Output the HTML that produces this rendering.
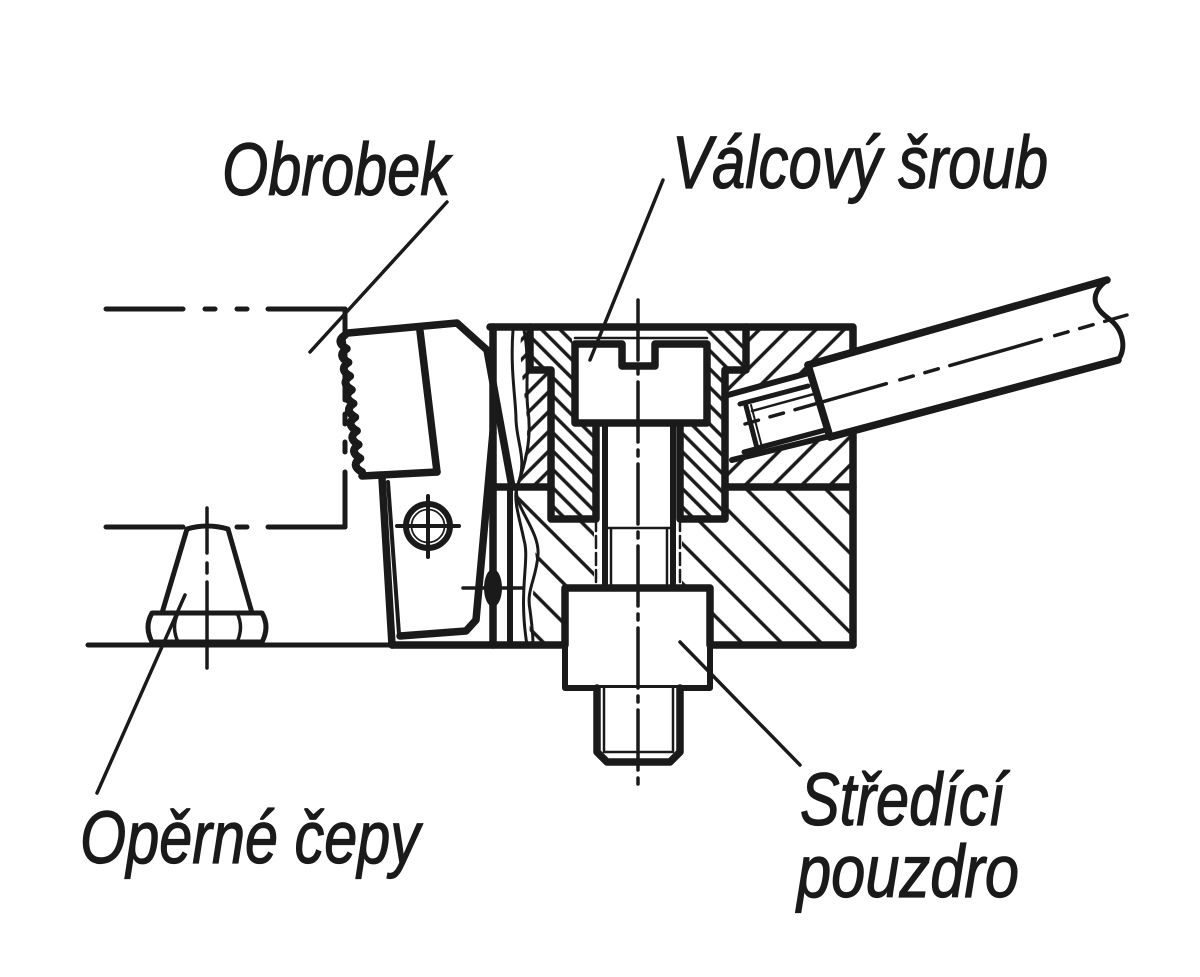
<!DOCTYPE html>
<html><head><meta charset="utf-8">
<style>
html,body{margin:0;padding:0;background:#fff;}
svg{display:block;}
text{font-family:"Liberation Sans",sans-serif;font-style:italic;fill:#1a1a1a;stroke:#1a1a1a;stroke-width:1.2;font-size:74px;}
</style></head><body>
<svg width="1200" height="977" viewBox="0 0 1200 977" xmlns="http://www.w3.org/2000/svg">
<defs>
<pattern id="hA" width="40" height="20" patternUnits="userSpaceOnUse" patternTransform="rotate(-45)"><line x1="-5" y1="10" x2="45" y2="10" stroke="#1a1a1a" stroke-width="3.5"/></pattern>
<pattern id="hA2" width="40" height="14" patternUnits="userSpaceOnUse" patternTransform="rotate(-45)"><line x1="-5" y1="7" x2="45" y2="7" stroke="#1a1a1a" stroke-width="3.5"/></pattern>
<pattern id="hB" width="40" height="13" patternUnits="userSpaceOnUse" patternTransform="rotate(45)"><line x1="-5" y1="6" x2="45" y2="6" stroke="#1a1a1a" stroke-width="3.5"/></pattern>
<pattern id="hC" width="40" height="28" patternUnits="userSpaceOnUse" patternTransform="rotate(45)"><line x1="-5" y1="14" x2="45" y2="14" stroke="#1a1a1a" stroke-width="3.5"/></pattern>
</defs>

<g stroke="none">
<path d="M522,330 L530,330 L530,370 L551,370 L551,485 L517,485 C523,465 530,440 526,410 C523,380 518,350 522,330 Z" fill="url(#hA2)"/>
<path d="M530,330 L572,330 L572,425 L596,425 L596,519 L551,519 L551,370 L530,370 Z" fill="url(#hB)"/>
<path d="M746,330 L704,330 L704,425 L680,425 L680,519 L725,519 L725,370 L746,370 Z" fill="url(#hB)"/>
<path d="M746,330 L850,330 L850,485 L725,485 L725,370 L746,370 Z" fill="url(#hA)"/>
<path d="M517,490 L551,490 L551,519 L594,519 L594,588 L565,588 L565,642 L531,642 C526,620 536,590 536,560 C534,530 520,510 517,490 Z" fill="url(#hC)"/>
<path d="M725,490 L850,490 L850,642 L710,642 L710,588 L682,588 L682,519 L725,519 Z" fill="url(#hC)"/>
<path d="M728,395 L812,372 L832,437 L728,462 Z" fill="#fff"/>
</g>

<g fill="none" stroke="#1a1a1a" stroke-linecap="round" stroke-linejoin="round">
<g stroke-width="5">
<path d="M106,309 H183 M205,309 H215 M237,309 H247 M268,309 H345"/>
<path d="M345,309 V400 M345,414 V424 M345,442 V452 M345,472 V527"/>
<path d="M106,527 H183 M237,527 H247 M268,527 H345"/>
<path d="M88,645 H392"/>
</g>

<path d="M187,529 Q207,523 228,529 L252,613 L162,613 Z" fill="#fff" stroke-width="5"/>
<path d="M152,613 H262 Q270,627 262,642 H152 Q144,627 152,613 Z" fill="#fff" stroke-width="5"/>
<path d="M178,613 Q171,627 178,642 M237,613 Q244,627 237,642" stroke-width="3.5"/>
<path d="M207,508 V553 M207,563 V573 M207,582 V668" stroke-width="3.5"/>

<path d="M345,333 L457,323 L487,350 L493,432 L476,620 L466,631 L400,636 L386,480 L362,476 Z" fill="#fff" stroke="none"/>
<path d="M348,333 L457,323 L487,350 L512,487" stroke-width="7.5"/>
<path d="M493,432 L476,620 L466,631 L400,636" stroke-width="7.5"/>
<path d="M382,478 L392,645" stroke-width="7.5"/>
<path d="M388,482 L399,634" stroke-width="4"/>
<path d="M420,331 L437,472" stroke-width="7.5"/>
<path d="M362,476 L437,472" stroke-width="7.5"/>
<path d="M345,335 q-10,7 1.7,13.7 q-10,7 1.7,13.7 q-10,7 1.7,13.7 q-10,7 1.7,13.7 q-10,7 1.7,13.7 q-10,7 1.7,13.7 q-10,7 1.7,13.7 q-10,7 1.7,13.7 q-10,7 1.7,13.7 q-10,7 1.7,13.7" stroke-width="8"/>
<circle cx="428" cy="526" r="22" fill="#fff" stroke-width="6"/>
<circle cx="428" cy="526" r="16.5" stroke-width="1.8"/>
<path d="M397,526 H459 M428,496 V557" stroke-width="4"/>
<ellipse cx="493" cy="588" rx="9" ry="19" fill="#1a1a1a" stroke="none"/>
<path d="M463,588 H523" stroke-width="3.5"/>

<path d="M490,327 H853 V352 M853,428 V645" stroke-width="7.5"/>
<path d="M493,327 V645" stroke-width="7.5"/>
<path d="M510,487 V645" stroke-width="6"/>
<path d="M392,645 H565 M710,645 H853" stroke-width="7.5"/>
<path d="M493,487 H551 M725,487 H853" stroke-width="7.5"/>
<path d="M513,330 C510,370 516,400 516,420 C517,445 528,460 517,487 C512,505 540,530 538,555 C536,580 526,590 530,610 C532,625 533,635 533,645" stroke-width="3"/>
<path d="M524,330 C530,360 525,390 528,410 C532,440 525,465 517,487 C513,500 520,520 524,540 C530,560 518,590 527,645" stroke-width="3"/>

<path d="M530,327 V370 H551 V519 H596 V425" stroke-width="7.5"/>
<path d="M746,327 V370 H725 V519 H680 V425" stroke-width="7.5"/>
<path d="M596,519 V588 M680,519 V588" stroke-width="2.5" stroke-dasharray="12 5"/>

<rect x="575" y="343" width="132" height="80" fill="#fff" stroke="none"/>
<path d="M622,344 H575 V423 H707 V344 H655 V366 H622 Z" stroke-width="7.5"/>
<path d="M575,338 H707" stroke-width="2.5"/>
<path d="M605,423 V588 M673,423 V588" stroke-width="6"/>
<path d="M605,528 H673 M611,528 V588 M667,528 V588" stroke-width="2.5"/>

<rect x="565" y="588" width="145" height="100" fill="#fff" stroke="none"/>
<path d="M565,645 V588 H710 V645" stroke-width="7.5"/>
<path d="M565,645 V688 H710 V645" stroke-width="6"/>
<path d="M597,688 V752 L607,762 H670 L680,752 V688" fill="#fff" stroke-width="7.5"/>
<path d="M604,688 V752 H673 V688" stroke-width="2.5"/>

<path d="M638,300 V785" stroke-width="3.5" stroke-dasharray="60 8 6 8"/>

<path d="M728,395 L812,372" stroke-width="6"/>
<path d="M732,460 L830,436" stroke-width="6"/>
<path d="M746,406 L758,452" stroke-width="5"/>
<path d="M751,405 L763,451" stroke-width="2"/>
<path d="M752,411 L814,394" stroke-width="2.5"/>
<path d="M760,446 L824,429" stroke-width="2.5"/>
<path d="M740,404 L808,386 M744,452 L826,430" stroke-width="5"/>

<path d="M808,365 L1107,280 C1092,292 1090,305 1108,318 C1125,330 1126,350 1118,360 L830,437 Z" fill="#fff" stroke="none"/>
<path d="M808,365 L1107,280" stroke-width="7.5"/>
<path d="M830,437 L1118,360" stroke-width="7.5"/>
<path d="M808,365 L830,437" stroke-width="7.5"/>
<path d="M1107,280 C1092,292 1090,305 1108,318 C1125,330 1126,350 1118,360" stroke-width="5"/>
<path d="M745,424 L1127,315" stroke-width="3.5" stroke-dasharray="14 12 14 12 95 14"/>

<g stroke-width="3.5">
<path d="M447,202 L310,352"/>
<path d="M663,180 L590,360"/>
<path d="M680,642 L800,765"/>
<path d="M185,595 L97,793"/>
</g>
</g>

<text x="222" y="195" textLength="228" lengthAdjust="spacingAndGlyphs">Obrobek</text>
<text x="672" y="188" textLength="376" lengthAdjust="spacingAndGlyphs">Válcový šroub</text>
<text x="80" y="863" textLength="340" lengthAdjust="spacingAndGlyphs">Opěrné čepy</text>
<text x="800" y="825" textLength="205" lengthAdjust="spacingAndGlyphs">Středící</text>
<text x="797" y="897" textLength="222" lengthAdjust="spacingAndGlyphs">pouzdro</text>
</svg>
</body></html>
